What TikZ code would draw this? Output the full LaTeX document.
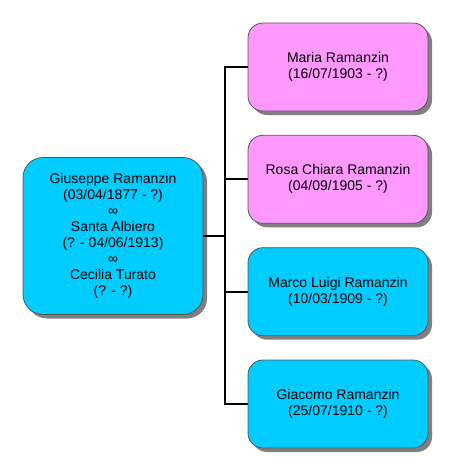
\documentclass[tikz,border=0pt]{standalone}
\usepackage{fontspec}
\setmainfont{Liberation Sans}
\usetikzlibrary{shadows}
\definecolor{boy}{HTML}{00CCFF}
\definecolor{girl}{HTML}{FF99FF}
\definecolor{edge}{HTML}{555555}
\definecolor{shade}{HTML}{808080}
\tikzset{
  person/.style={draw=edge, line width=0.8pt, rounded corners=15pt, align=center,
    minimum width=180pt, minimum height=88pt, inner sep=0pt,
    font=\fontsize{14}{16}\selectfont,
    drop shadow={shadow xshift=4pt, shadow yshift=-4pt, fill=shade, opacity=1}},
  link/.style={draw=black, line width=2pt}
}
\begin{document}
\begin{tikzpicture}[x=1pt,y=-1pt]
\useasboundingbox (0,0) rectangle (450,472);
\fill[white] (0,0) rectangle (450,472);
\node[person, fill=boy, minimum height=157pt, rounded corners=20pt] (p) at (113,236)
  {Giuseppe Ramanzin\\(03/04/1877 - ?)\\∞\\Santa Albiero\\(? - 04/06/1913)\\∞\\Cecilia Turato\\(? - ?)};
\node[person, fill=girl] (c1) at (338,67) {Maria Ramanzin\\(16/07/1903 - ?)};
\node[person, fill=girl] (c2) at (338,179.3) {Rosa Chiara Ramanzin\\(04/09/1905 - ?)};
\node[person, fill=boy] (c3) at (338,291.7) {Marco Luigi Ramanzin\\(10/03/1909 - ?)};
\node[person, fill=boy] (c4) at (338,404) {Giacomo Ramanzin\\(25/07/1910 - ?)};
\coordinate (j) at (225,236);
\draw[link] (p.east) -- (j);
\draw[link] (c1.west) -| (j |- c1.west) -- (j |- c4.west) -- (c4.west);
\draw[link] (j |- c2.west) -- (c2.west);
\draw[link] (j |- c3.west) -- (c3.west);
\end{tikzpicture}
\end{document}
